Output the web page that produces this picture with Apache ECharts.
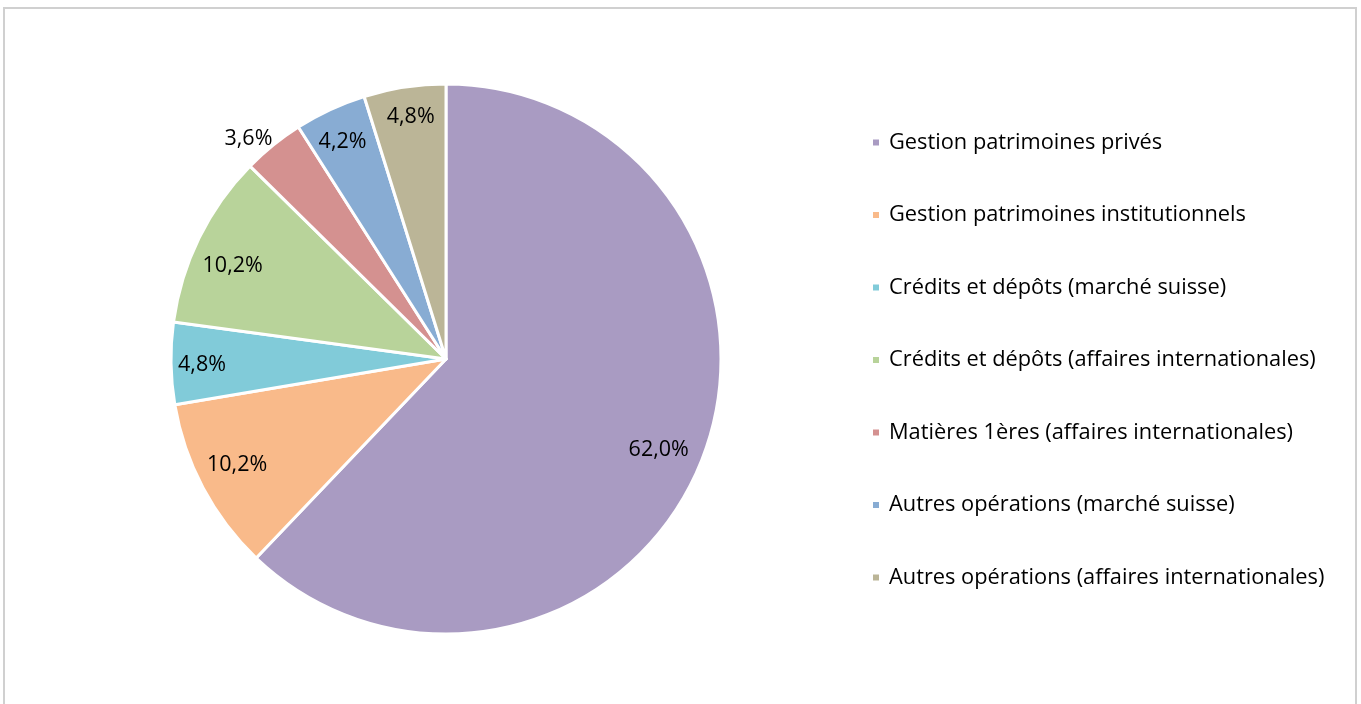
<!DOCTYPE html>
<html><head><meta charset="utf-8">
<script src="https://cdn.jsdelivr.net/npm/echarts@6/dist/echarts.min.js"></script>
<style>html,body{margin:0;padding:0;background:#fff}#c{width:1361px;height:704px}</style>
</head><body><div id="c"></div>
<script>
const categories = [
  'Gestion patrimoines privés',
  'Gestion patrimoines institutionnels',
  'Crédits et dépôts (marché suisse)',
  'Crédits et dépôts (affaires internationales)',
  'Matières 1ères (affaires internationales)',
  'Autres opérations (marché suisse)',
  'Autres opérations (affaires internationales)'
];
const values = [62.0, 10.2, 4.8, 10.2, 3.6, 4.2, 4.8];
const colors = ['#A99BC2', '#F9BA8A', '#81CBD9', '#B8D39A', '#D49190', '#88ACD3', '#BBB597'];
// label nudges (px) to mimic Excel "best fit" placement
const labelNudge = [[-11, 1], [4, -7], [-3, 2], [3, 13], [-46, -33], [-2, 1], [1, -4]];

const font = 'Open Sans';
const fmt = v => v.toFixed(1).replace('.', ',') + '%';

const mainData = categories.map((n, i) => ({ name: n, value: values[i], itemStyle: { color: colors[i] } }));
const labelData = categories.map((n, i) => ({ name: n, value: values[i], label: { offset: labelNudge[i] } }));

const chart = echarts.init(document.getElementById('c'), null, { renderer: 'canvas' });
chart.setOption({
  animation: false,
  graphic: [{
    type: 'rect', silent: true,
    shape: { x: 4, y: 8, width: 1352, height: 720 },
    style: { fill: 'none', stroke: '#D0D0D0', lineWidth: 2 }
  }],
  legend: {
    orient: 'vertical', left: 871, top: 130.5, padding: 0,
    data: categories,
    icon: 'rect', itemWidth: 8, itemHeight: 8, itemGap: 48.5,
    textStyle: { fontFamily: font, fontSize: 21.8, color: '#000', lineHeight: 24, padding: [0, 0, 0, 4] }
  },
  series: [
    {
      type: 'pie', center: [446, 359], radius: [0, 275],
      startAngle: 90, clockwise: true,
      label: { show: false }, labelLine: { show: false },
      itemStyle: { borderColor: '#fff', borderWidth: 3 },
      data: mainData
    },
    {
      type: 'pie', center: [446, 359], radius: [196, 280],
      startAngle: 90, clockwise: true, silent: true, legendHoverLink: false,
      itemStyle: { color: 'rgba(0,0,0,0)' },
      label: {
        show: true, position: 'inside', color: '#000',
        fontFamily: font, fontSize: 21.5,
        formatter: p => fmt(p.value)
      },
      labelLine: { show: false },
      data: labelData
    }
  ]
});
</script></body></html>
